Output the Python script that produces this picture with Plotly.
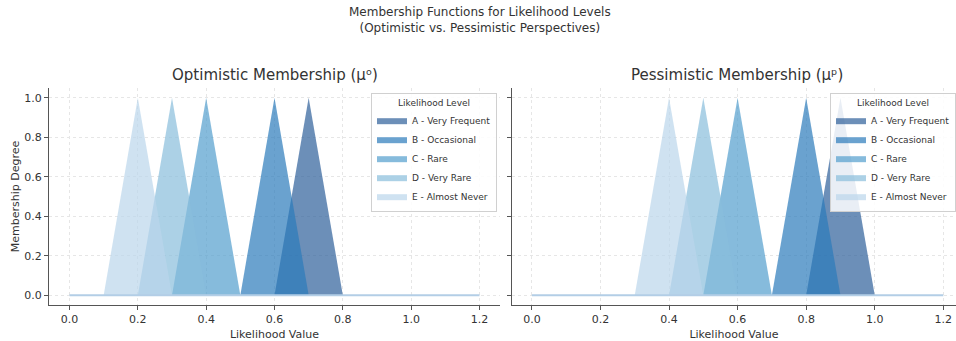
import plotly.graph_objects as go

# ---- data ----
levels = ["A - Very Frequent", "B - Occasional", "C - Rare", "D - Very Rare", "E - Almost Never"]
opt_left = [0.6, 0.5, 0.3, 0.2, 0.1]
opt_peak = [0.7, 0.6, 0.4, 0.3, 0.2]
opt_right = [0.8, 0.7, 0.5, 0.4, 0.3]
pes_left = [0.8, 0.7, 0.5, 0.4, 0.3]
pes_peak = [0.9, 0.8, 0.6, 0.5, 0.4]
pes_right = [1.0, 0.9, 0.7, 0.6, 0.5]
x_domain = [0.0, 1.2]
x_ticks = [0.0, 0.2, 0.4, 0.6, 0.8, 1.0, 1.2]
y_ticks = [0.0, 0.2, 0.4, 0.6, 0.8, 1.0]

colors = ["45,95,154", "43,123,186", "83,158,205", "137,190,220", "186,214,235"]
ALPHA = 0.7

W, H = 956, 341
FONT = "DejaVu Sans"

fig = go.Figure()

def add_panel(lefts, peaks, rights, xa, ya, legend):
    for name, a, b, c, col in zip(levels, lefts, peaks, rights, colors):
        fig.add_trace(go.Scatter(
            x=[a, b, c], y=[0, 1, 0],
            mode="lines", fill="toself",
            fillcolor=f"rgba({col},{ALPHA})",
            line=dict(width=0, color=f"rgba({col},{ALPHA})"),
            name=name, xaxis=xa, yaxis=ya, legend=legend,
            hoverinfo="skip",
        ))
    fig.add_trace(go.Scatter(
        x=x_domain, y=[0, 0], mode="lines",
        line=dict(width=2, color="rgba(179,206,230,1)"),
        showlegend=False, xaxis=xa, yaxis=ya, hoverinfo="skip",
    ))

add_panel(opt_left, opt_peak, opt_right, "x", "y", "legend")
add_panel(pes_left, pes_peak, pes_right, "x2", "y2", "legend2")

def px_x(p):
    return p / W

def px_y(p):
    return 1 - p / H

ydom = [px_y(305), px_y(88)]

axis_common = dict(
    showline=True, linecolor="#555555", linewidth=1.3,
    ticks="outside", ticklen=4, tickcolor="#555555", tickwidth=1,
    showgrid=True, gridcolor="#e6e6e6", griddash="dot", gridwidth=1,
    zeroline=False, tickfont=dict(family=FONT, size=11, color="#333333"),
    mirror=False, automargin=False,
)

legend_common = dict(
    y=px_y(93), yanchor="top",
    bgcolor="rgba(255,255,255,0.85)", bordercolor="#d0d0d0", borderwidth=1,
    font=dict(family=FONT, size=9, color="#333333"),
    title=dict(text="Likelihood Level", side="top center", font=dict(family=FONT, size=9, color="#333333")),
    tracegroupgap=0, itemwidth=30,
)

fig.update_layout(
    width=W, height=H,
    margin=dict(l=0, r=0, t=0, b=0, autoexpand=False),
    paper_bgcolor="white", plot_bgcolor="white",
    font=dict(family=FONT, color="#333333"),
    xaxis=dict(domain=[px_x(49), px_x(500)], range=[-0.06, 1.26], tickvals=x_ticks,
               tickformat=".1f", anchor="y",
               title=dict(text="Likelihood Value", font=dict(size=11, family=FONT, color="#333333"), standoff=4),
               **axis_common),
    yaxis=dict(domain=ydom, range=[-0.05, 1.05], tickvals=y_ticks, tickformat=".1f", anchor="x",
               title=dict(text="Membership Degree", font=dict(size=11, family=FONT, color="#333333"), standoff=2),
               **axis_common),
    xaxis2=dict(domain=[px_x(512), 1.0], range=[-0.058, 1.237], tickvals=x_ticks,
                tickformat=".1f", anchor="y2",
                title=dict(text="Likelihood Value", font=dict(size=11, family=FONT, color="#333333"), standoff=4),
                **axis_common),
    yaxis2=dict(domain=ydom, range=[-0.05, 1.05], tickvals=y_ticks, showticklabels=False, anchor="x2",
                **axis_common),
    legend=dict(x=px_x(497), xanchor="right", **legend_common),
    legend2=dict(x=1.0, xanchor="right", **legend_common),
    annotations=[
        dict(text="Membership Functions for Likelihood Levels<br>(Optimistic vs. Pessimistic Perspectives)",
             x=px_x(480), y=px_y(3), xref="paper", yref="paper", xanchor="center", yanchor="top",
             showarrow=False, font=dict(family=FONT, size=12, color="#333333")),
        dict(text="Optimistic Membership (μᵒ)", x=px_x(274.5), y=px_y(86), xref="paper", yref="paper",
             xanchor="center", yanchor="bottom", showarrow=False,
             font=dict(family=FONT, size=15, color="#333333")),
        dict(text="Pessimistic Membership (μᵖ)", x=px_x(737), y=px_y(86), xref="paper", yref="paper",
             xanchor="center", yanchor="bottom", showarrow=False,
             font=dict(family=FONT, size=15, color="#333333")),
    ],
)

fig.write_html("out.html")
